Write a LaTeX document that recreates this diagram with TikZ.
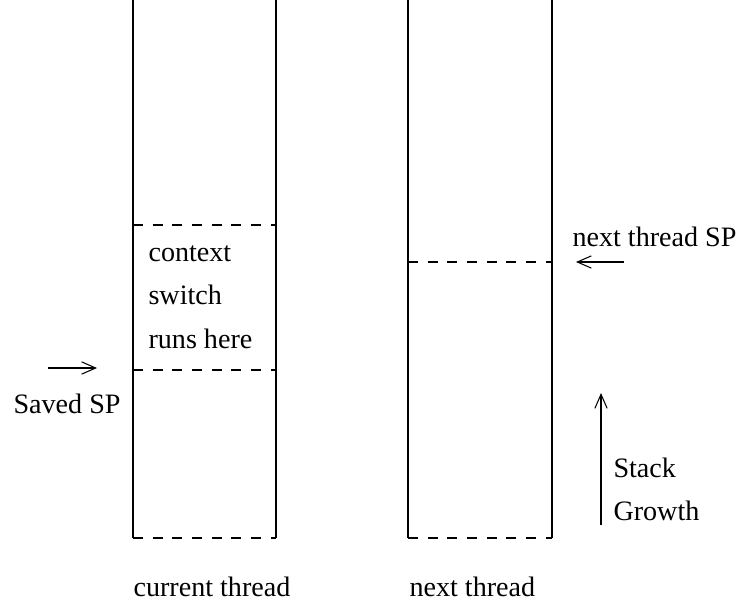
\documentclass[tikz,border=0pt]{standalone}
\usepackage{fontspec}
\setmainfont{Liberation Serif}
\usepackage{tikz}
\usetikzlibrary{arrows.meta, positioning}

\tikzset{
    lbl/.style={inner sep=0pt, anchor=base west, font=\fontsize{16}{19}\selectfont},
    sep/.style={dash pattern=on 5.6pt off 5.6pt},
    ptr/.style={-{Straight Barb[length=8pt, width=7pt]}}
}

\begin{document}
\begin{tikzpicture}[x=0.02cm, y=-0.02cm, line width=0.6pt]

            \useasboundingbox (0,0) rectangle (740,601);

            % 当前线程的栈
            \draw (133,0) -- (133,538);
            \draw (276,0) -- (276,538);
            \draw[sep] (133,538) -- (276,538);
            \draw[sep] (133,225) -- (276,225);
            \draw[sep] (133,370) -- (276,370);

            % 下一个线程的栈
            \draw (408,0) -- (408,538);
            \draw (552,0) -- (552,538);
            \draw[sep] (408,538) -- (552,538);
            \draw[sep] (408,262) -- (552,262);

            % 栈内文字
            \node[lbl] (ctx) at (148,261) {context};
            \node[lbl, below=25pt of ctx.base west, anchor=base west] (sw) {switch};
            \node[lbl, below=25pt of sw.base west, anchor=base west] (runs) {runs here};

            % 保存的 SP
            \node[lbl] (saved) at (13,413) {Saved SP};
            \coordinate (savedtail) at (48,368);
            \coordinate (savedhead) at (97,368);
            \draw[ptr] (savedtail) -- (savedhead);

            % 下一个线程的 SP
            \node[lbl] (nextsp) at (572,247) {next thread SP};
            \coordinate (nexttail) at (624,262);
            \coordinate (nexthead) at (576,262);
            \draw[ptr] (nexttail) -- (nexthead);

            % 栈增长方向
            \node[lbl] (stack) at (613,477) {Stack};
            \node[lbl, below=25pt of stack.base west, anchor=base west] (growth) {Growth};
            \coordinate (growtail) at (601,525);
            \coordinate (growhead) at (601,393);
            \draw[ptr] (growtail) -- (growhead);

            % 标签
            \node[lbl] (curlbl) at (133,596) {current thread};
            \node[lbl] (nextlbl) at (409,596) {next thread};

            \end{tikzpicture}
\end{document}
